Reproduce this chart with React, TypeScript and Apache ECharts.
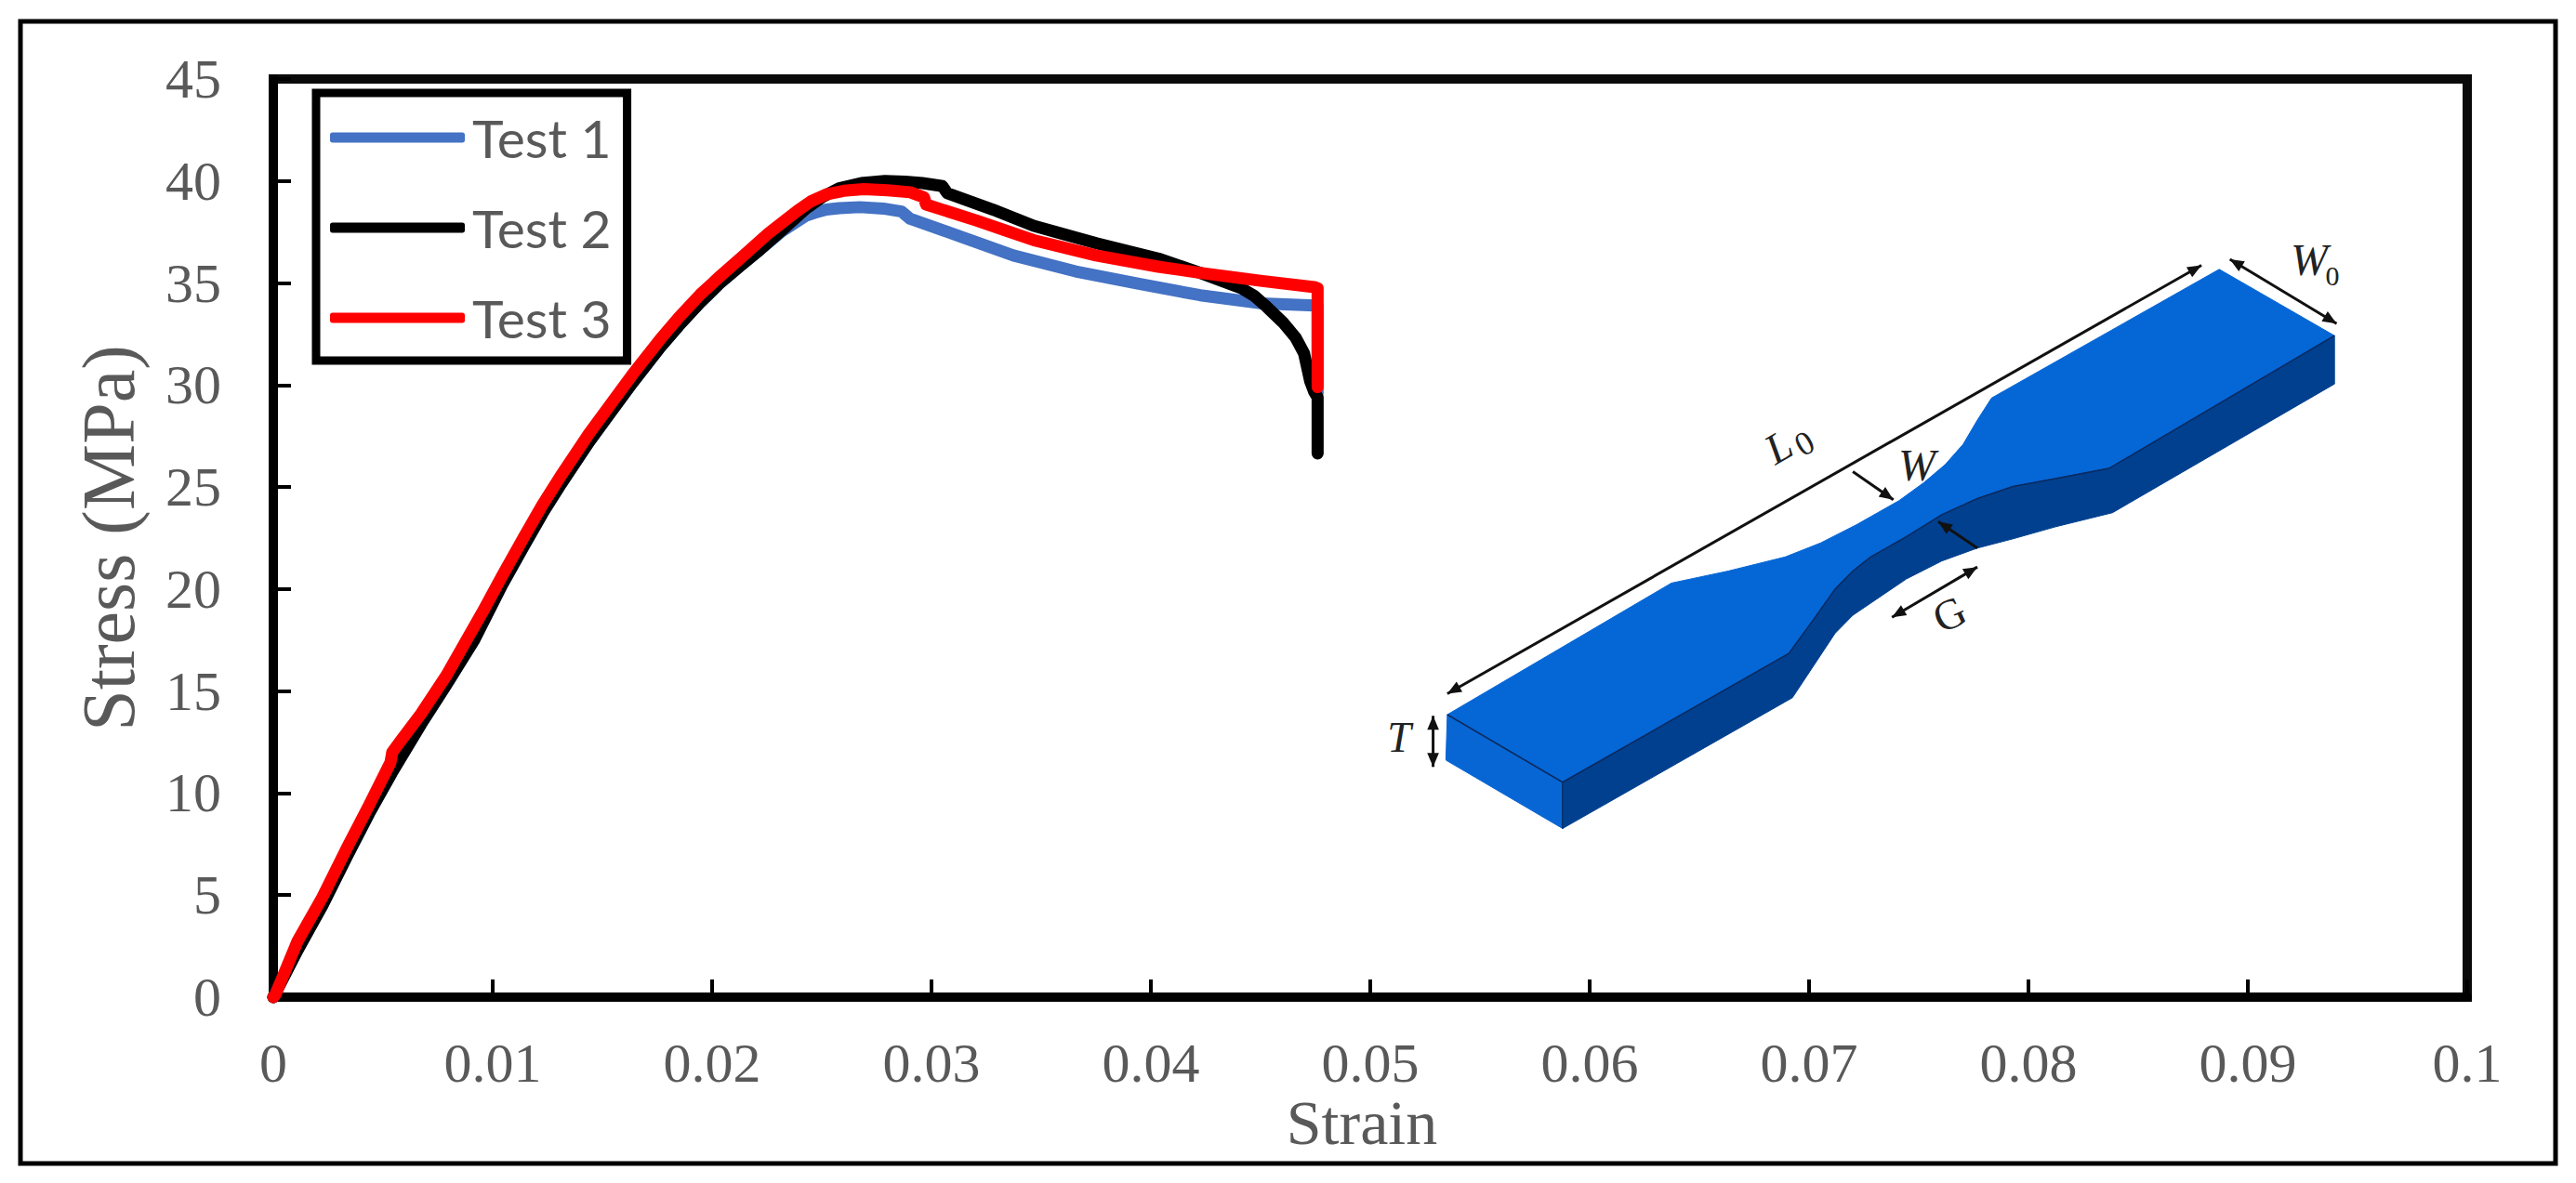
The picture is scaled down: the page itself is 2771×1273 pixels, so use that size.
import React, { useEffect, useRef } from "react";
import * as echarts from "echarts";

const seriesNames = ["Test 1", "Test 2", "Test 3"];
const seriesColors = ["#4472C4", "#000000", "#FF0000"];

const test1Strain = [0, 0.0011, 0.00224, 0.00335, 0.00436, 0.0054, 0.00674, 0.00788, 0.00915, 0.01042, 0.01141, 0.01226, 0.01311, 0.01438, 0.01537, 0.01636, 0.01763, 0.01847, 0.01946, 0.02031, 0.0213, 0.02214, 0.02314, 0.02428, 0.0247, 0.02521, 0.0258, 0.02674, 0.0278, 0.02864, 0.02903, 0.03127, 0.03373, 0.03657, 0.0394, 0.04225, 0.04508, 0.04746, 0.0476, 0.0476];
const test1Stress = [0, 2.3, 4.5, 6.9, 9.0, 11.0, 13.4, 15.3, 17.5, 20.2, 22.1, 23.7, 25.15, 27.2, 28.65, 30.1, 31.85, 32.9, 34.05, 34.95, 35.85, 36.6, 37.5, 38.3, 38.45, 38.6, 38.67, 38.72, 38.65, 38.5, 38.15, 37.3, 36.35, 35.57, 34.97, 34.4, 34.0, 33.9, 33.9, 29.6];

const test2Strain = [0, 0.0011, 0.00224, 0.00335, 0.00436, 0.0054, 0.00674, 0.00788, 0.00915, 0.01042, 0.01141, 0.01226, 0.01311, 0.01438, 0.01537, 0.01636, 0.01763, 0.01847, 0.01946, 0.02031, 0.0213, 0.02214, 0.02314, 0.02428, 0.025, 0.0258, 0.0268, 0.02788, 0.0288, 0.02958, 0.0305, 0.03072, 0.0328, 0.03466, 0.03752, 0.04034, 0.04225, 0.04413, 0.04471, 0.04528, 0.04602, 0.0466, 0.04698, 0.04726, 0.04745, 0.0476, 0.0476];
const test2Stress = [0, 2.3, 4.5, 6.9, 9.0, 11.0, 13.4, 15.3, 17.5, 20.2, 22.1, 23.7, 25.15, 27.2, 28.65, 30.1, 31.85, 32.9, 34.05, 34.95, 35.85, 36.6, 37.55, 38.65, 39.2, 39.65, 39.9, 40.0, 39.97, 39.9, 39.75, 39.4, 38.6, 37.8, 36.95, 36.2, 35.5, 34.74, 34.37, 33.83, 33.07, 32.32, 31.56, 30.19, 29.66, 29.4, 26.65];

const test3Strain = [0, 0.0001, 0.0011, 0.00224, 0.00335, 0.00436, 0.00534, 0.00542, 0.00576, 0.00674, 0.00788, 0.00958, 0.01042, 0.01141, 0.01226, 0.01311, 0.01438, 0.01537, 0.01636, 0.01763, 0.01847, 0.01946, 0.02031, 0.02144, 0.02258, 0.0233, 0.0239, 0.0245, 0.02521, 0.026, 0.02691, 0.028, 0.02903, 0.02966, 0.02975, 0.03203, 0.03466, 0.0375, 0.04034, 0.04225, 0.04508, 0.04746, 0.0476, 0.0476];
const test3Stress = [0, 0.14, 2.73, 4.9, 7.3, 9.4, 11.5, 12.0, 12.5, 13.9, 15.75, 18.96, 20.63, 22.53, 24.12, 25.56, 27.61, 29.05, 30.5, 32.24, 33.3, 34.44, 35.28, 36.35, 37.45, 38.05, 38.55, 39.0, 39.35, 39.52, 39.6, 39.55, 39.45, 39.2, 38.85, 38.07, 37.1, 36.35, 35.8, 35.5, 35.1, 34.8, 34.75, 29.9];

const specimenTopFace = [[205, 1222], [520, 895], [600, 865], [680, 830], [730, 795], [780, 750], [840, 690], [875, 645], [905, 600], [930, 550], [950, 490], [970, 435], [1290, 115], [1452, 280], [1135, 610], [1060, 635], [1000, 655], [950, 685], [900, 725], [850, 780], [800, 830], [775, 865], [750, 910], [720, 985], [685, 1070], [367, 1390]];
const specimenSideEdge = [[367, 1390], [685, 1070], [720, 985], [750, 910], [775, 865], [800, 830], [850, 780], [900, 725], [950, 685], [1000, 655], [1060, 635], [1135, 610], [1452, 280]];
const specimenSideFace = [...specimenSideEdge, [1452, 400], [1140, 720], [1060, 755], [1000, 785], [950, 808], [900, 840], [850, 885], [800, 945], [775, 975], [750, 1020], [720, 1100], [690, 1180], [367, 1505]];
const specimenEndFace = [[205, 1222], [367, 1390], [367, 1505], [203, 1335]];

const toFull = (p: number[]) => [1400 + p[0] / 1.3067, 240 + p[1] / 2.31];

const poly = (pts: number[][], fill: string) => ({
  type: "polygon",
  shape: { points: pts.map(toFull) },
  style: { fill, stroke: fill, lineWidth: 1 },
  silent: true,
});

const edge = (pts: number[][]) => ({
  type: "polyline",
  shape: { points: pts.map(toFull) },
  style: { stroke: "#0B2A5E", lineWidth: 1.5, fill: "none" },
  silent: true,
});

const head = (tip: number[], from: number[], size = 15) => {
  const dx = tip[0] - from[0];
  const dy = tip[1] - from[1];
  const len = Math.hypot(dx, dy);
  const ux = dx / len;
  const uy = dy / len;
  const bx = tip[0] - ux * size;
  const by = tip[1] - uy * size;
  const w = size * 0.42;
  return {
    type: "polygon",
    shape: { points: [tip, [bx - uy * w, by + ux * w], [bx + uy * w, by - ux * w]] },
    style: { fill: "#111" },
    silent: true,
  };
};

const arrow = (a: number[], b: number[], startHead: boolean, endHead: boolean, width = 3) => {
  const A = toFull(a);
  const B = toFull(b);
  const out: any[] = [
    { type: "line", shape: { x1: A[0], y1: A[1], x2: B[0], y2: B[1] }, style: { stroke: "#111", lineWidth: width }, silent: true },
  ];
  if (startHead) out.push(head(A, B));
  if (endHead) out.push(head(B, A));
  return out;
};

const label = (text: string, x: number, y: number, size: number, rotationDeg = 0, italic = true) => ({
  type: "text",
  x,
  y,
  rotation: (-rotationDeg * Math.PI) / 180,
  style: {
    text,
    fill: "#222",
    font: `${italic ? "italic " : ""}${size}px "Liberation Serif"`,
    align: "center",
    verticalAlign: "middle",
  },
  silent: true,
});

const tickFont = '"Liberation Serif"';

export default function App() {
  const ref = useRef<HTMLDivElement>(null);
  useEffect(() => {
    const chart = echarts.init(ref.current!, undefined, { renderer: "svg" });
    const pairs = [
      [test1Strain, test1Stress],
      [test2Strain, test2Stress],
      [test3Strain, test3Stress],
    ];
    chart.setOption({
      animation: false,
      backgroundColor: "#fff",
      grid: {
        left: 294,
        right: 117,
        top: 85,
        bottom: 200,
        show: true,
        borderColor: "#0a0a0a",
        borderWidth: 10,
        backgroundColor: "#fff",
      },
      xAxis: {
        type: "value",
        min: 0,
        max: 0.1,
        interval: 0.01,
        name: "Strain",
        nameLocation: "middle",
        nameGap: 108,
        nameMoveOverlap: false,
        nameTextStyle: { fontFamily: tickFont, fontSize: 68, lineHeight: 54, color: "#595959", padding: [0, 18, 0, 0] },
        splitLine: { show: false },
        axisLine: { show: true, lineStyle: { color: "#000", width: 10 } },
        axisTick: { show: true, inside: true, length: 19, lineStyle: { color: "#000", width: 4 } },
        axisLabel: { fontFamily: tickFont, fontSize: 60, lineHeight: 44, color: "#595959", margin: 49, showMaxLabel: true, showMinLabel: true },
      },
      yAxis: {
        type: "value",
        min: 0,
        max: 45,
        interval: 5,
        name: "Stress (MPa)",
        nameLocation: "middle",
        nameRotate: 90,
        nameGap: 137,
        nameMoveOverlap: false,
        nameTextStyle: { fontFamily: tickFont, fontSize: 80, color: "#595959" },
        splitLine: { show: false },
        axisLine: { show: true, lineStyle: { color: "#000", width: 10 } },
        axisTick: { show: true, inside: true, length: 19, lineStyle: { color: "#000", width: 4 } },
        axisLabel: { fontFamily: tickFont, fontSize: 60, color: "#595959", margin: 56 },
      },
      legend: {
        show: true,
        orient: "vertical",
        left: 340,
        top: 100,
        data: seriesNames,
        selectedMode: false,
        icon: "roundRect",
        itemWidth: 145,
        itemHeight: 11,
        itemGap: 37,
        padding: [18, 17, 16, 15],
        borderColor: "#000",
        borderWidth: 9,
        backgroundColor: "#fff",
        textStyle: { fontFamily: "Lato", fontSize: 57, color: "#595959", lineHeight: 60, padding: [0, 0, 0, 3] },
      },
      series: pairs.map((p, i) => ({
        name: seriesNames[i],
        type: "line",
        symbol: "none",
        clip: false,
        data: p[0].map((x, j) => [x, p[1][j]]),
        lineStyle: { color: seriesColors[i], width: 13, cap: "round", join: "round" },
        itemStyle: { color: seriesColors[i] },
      })),
      graphic: [
        {
          type: "rect",
          shape: { x: 22, y: 23, width: 2727, height: 1229 },
          style: { fill: "none", stroke: "#000", lineWidth: 5 },
          silent: true,
          z: -1,
        },
        poly(specimenTopFace, "#0566D6"),
        poly(specimenSideFace, "#00408F"),
        poly(specimenEndFace, "#0866D4"),
        edge([[205, 1222], [367, 1390], [367, 1505]]),
        edge(specimenSideEdge),
        ...arrow([205, 1170], [1265, 105], true, true),
        ...arrow([1305, 90], [1455, 250], true, true),
        ...arrow([775, 618], [832, 688], false, true),
        ...arrow([950, 808], [895, 742], false, true),
        ...arrow([830, 980], [950, 855], true, true),
        ...arrow([185, 1225], [185, 1352], true, true),
        label("L", 1913, 481, 46, -30),
        label("0", 1941, 477, 36, -30, false),
        label("W", 2062, 500, 48),
        label("G", 2097, 661, 46, -25, false),
        label("T", 1505, 793, 46),
        label("W", 2484, 279, 48),
        label("0", 2509, 296, 30, 0, false),
      ],
    });
    return () => chart.dispose();
  }, []);
  return <div ref={ref} style={{ position: "absolute", left: 0, top: 0, width: 2771, height: 1273 }} />;
}
